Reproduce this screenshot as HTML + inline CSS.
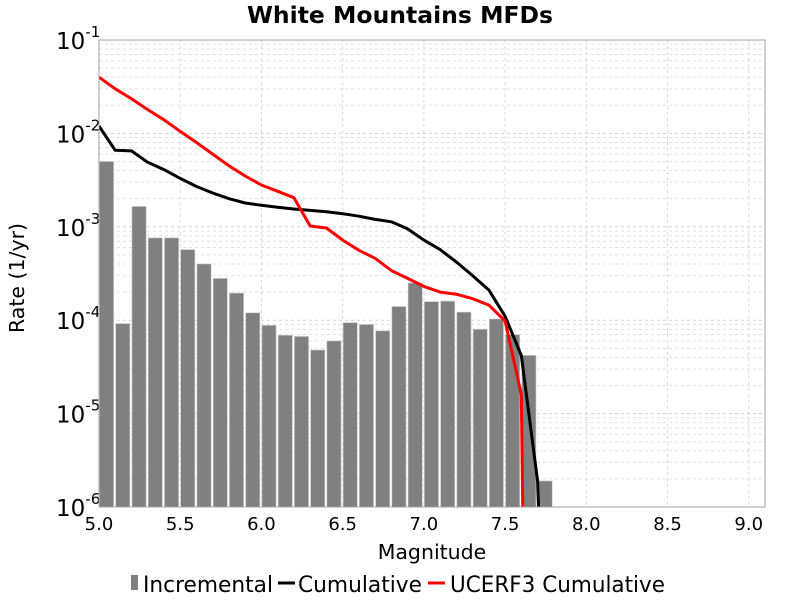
<!DOCTYPE html>
<html><head><meta charset="utf-8"><style>
body{margin:0;background:#fff;width:800px;height:600px;overflow:hidden}
svg{font-family:"DejaVu Sans","Liberation Sans",sans-serif}
</style></head><body>
<svg id="chart" width="800" height="600" xmlns="http://www.w3.org/2000/svg">
<text x="400" y="23" text-anchor="middle" font-weight="bold" font-size="23.5">White Mountains MFDs</text>
<g id="grid"></g><g id="bars"></g><g id="lines"></g><g id="axes"></g>
<text x="432" y="559" text-anchor="middle" font-size="20.5">Magnitude</text>
<text transform="translate(24,278) rotate(-90)" text-anchor="middle" font-size="20.5">Rate (1/yr)</text>
<g font-size="22">
<rect x="131" y="575" width="7" height="15" fill="#808080"/>
<text x="143" y="592" textLength="130" lengthAdjust="spacingAndGlyphs">Incremental</text>
<line x1="278" y1="583" x2="295" y2="583" stroke="#000" stroke-width="3"/>
<text x="298" y="592" textLength="124" lengthAdjust="spacingAndGlyphs">Cumulative</text>
<line x1="428" y1="583" x2="445" y2="583" stroke="#f00" stroke-width="3"/>
<text x="450" y="592" textLength="215" lengthAdjust="spacingAndGlyphs">UCERF3 Cumulative</text>
</g>
</svg>
<script>
const barMags=[5.05,5.15,5.25,5.35,5.45,5.55,5.65,5.75,5.85,5.95,6.05,6.15,6.25,6.35,6.45,6.55,6.65,6.75,6.85,6.95,7.05,7.15,7.25,7.35,7.45,7.55,7.65,7.75];
const barRates=[5.0e-3,9.2e-5,1.65e-3,7.6e-4,7.6e-4,5.7e-4,4.0e-4,2.8e-4,1.95e-4,1.2e-4,8.8e-5,6.9e-5,6.7e-5,4.8e-5,6.0e-5,9.4e-5,9.0e-5,7.7e-5,1.4e-4,2.5e-4,1.58e-4,1.6e-4,1.22e-4,8.0e-5,1.03e-4,7.0e-5,4.2e-5,1.9e-6];
const cumMags=[5.0,5.1,5.2,5.3,5.4,5.5,5.6,5.7,5.8,5.9,6.0,6.1,6.2,6.3,6.4,6.5,6.6,6.7,6.8,6.9,7.0,7.1,7.2,7.3,7.4,7.5,7.6,7.7,7.71];
const cumRates=[1.2e-2,6.6e-3,6.5e-3,4.9e-3,4.1e-3,3.3e-3,2.7e-3,2.3e-3,2.0e-3,1.8e-3,1.7e-3,1.62e-3,1.55e-3,1.5e-3,1.45e-3,1.38e-3,1.3e-3,1.2e-3,1.13e-3,9.5e-4,7.2e-4,5.7e-4,4.2e-4,3.0e-4,2.1e-4,1.1e-4,4.2e-5,1.9e-6,1e-8];
const ucerfMags=[5.0,5.1,5.2,5.3,5.4,5.5,5.6,5.7,5.8,5.9,6.0,6.1,6.2,6.3,6.4,6.5,6.6,6.7,6.8,6.9,7.0,7.1,7.2,7.3,7.4,7.5,7.6,7.61];
const ucerfRates=[4.0e-2,3.0e-2,2.35e-2,1.8e-2,1.4e-2,1.05e-2,8.0e-3,6.0e-3,4.5e-3,3.5e-3,2.8e-3,2.4e-3,2.05e-3,1.02e-3,9.7e-4,7.2e-4,5.6e-4,4.6e-4,3.4e-4,2.8e-4,2.3e-4,2.0e-4,1.9e-4,1.7e-4,1.45e-4,9.8e-5,1.6e-5,1e-8];
const xTicks=["5.0","5.5","6.0","6.5","7.0","7.5","8.0","8.5","9.0"];
const yExps=[-6,-5,-4,-3,-2,-1];
const L=99,R=765,T=40,B=507,xMin=5.0,xMax=9.1,yMin=-6,yMax=-1;
const NS='http://www.w3.org/2000/svg';
const X=m=>L+(m-xMin)/(xMax-xMin)*(R-L);
const Y=v=>{let l=Math.log10(Math.max(v,1e-12));l=Math.max(l,yMin-0.2);return B-(l-yMin)/(yMax-yMin)*(B-T);};
function mk(tag,attrs,parent){const e=document.createElementNS(NS,tag);for(const k in attrs)e.setAttribute(k,attrs[k]);parent.appendChild(e);return e;}
const grid=document.getElementById('grid'),bars=document.getElementById('bars'),lines=document.getElementById('lines'),axes=document.getElementById('axes');
mk('rect',{x:L,y:T,width:R-L,height:B-T,fill:'#fff'},grid);
xTicks.forEach(t=>{const x=X(+t);const g=mk('line',{x1:x,x2:x,y1:T,y2:B,stroke:'#d8d8d8','stroke-dasharray':'3,3'},grid);

const tx=mk('text',{x:x,y:530,'text-anchor':'middle','font-size':'18'},axes);tx.textContent=t;
});
for(let e=yMin;e<yMax;e++){for(let k=1;k<10;k++){const y=Y(k*Math.pow(10,e));const g=mk('line',{x1:L,x2:R,y1:y,y2:y,stroke:k==1?'#d0d0d0':'#e0e0e0','stroke-dasharray':'3,3'},grid);
}}
yExps.forEach(e=>{const y=Y(Math.pow(10,e));const t=mk('text',{x:56,y:y+9,'font-size':'23'},axes);
t.innerHTML='10<tspan dy="-12" font-size="15">'+e+'</tspan>';
});
barMags.forEach((m,i)=>{const x0=X(m-0.05)+0.5,x1=X(m+0.04);const y=Y(barRates[i]);
const r=mk('rect',{x:x0,y:y,width:x1-x0,height:B-y,fill:'#808080',stroke:'#c8c8c8','stroke-width':'0.6'},bars);
});
function line(ms,rs,col,name){const d=ms.map((m,i)=>(i?'L':'M')+X(m).toFixed(1)+','+Y(rs[i]).toFixed(1)).join('');
const p=mk('path',{d:d,fill:'none',stroke:col,'stroke-width':'3','stroke-linejoin':'round','clip-path':'url(#pc)'},lines);
}
const defs=mk('defs',{},document.getElementById('chart'));const cp=mk('clipPath',{id:'pc'},defs);mk('rect',{x:L,y:T,width:R-L,height:B-T},cp);
bars.setAttribute('clip-path','url(#pc)');
line(cumMags,cumRates,'#000','cumulative-line');
line(ucerfMags,ucerfRates,'#f00','ucerf3-cumulative-line');
const f=mk('rect',{x:L,y:T,width:R-L,height:B-T,fill:'none',stroke:'#a0a0a0'},axes);

</script>
</body></html>
